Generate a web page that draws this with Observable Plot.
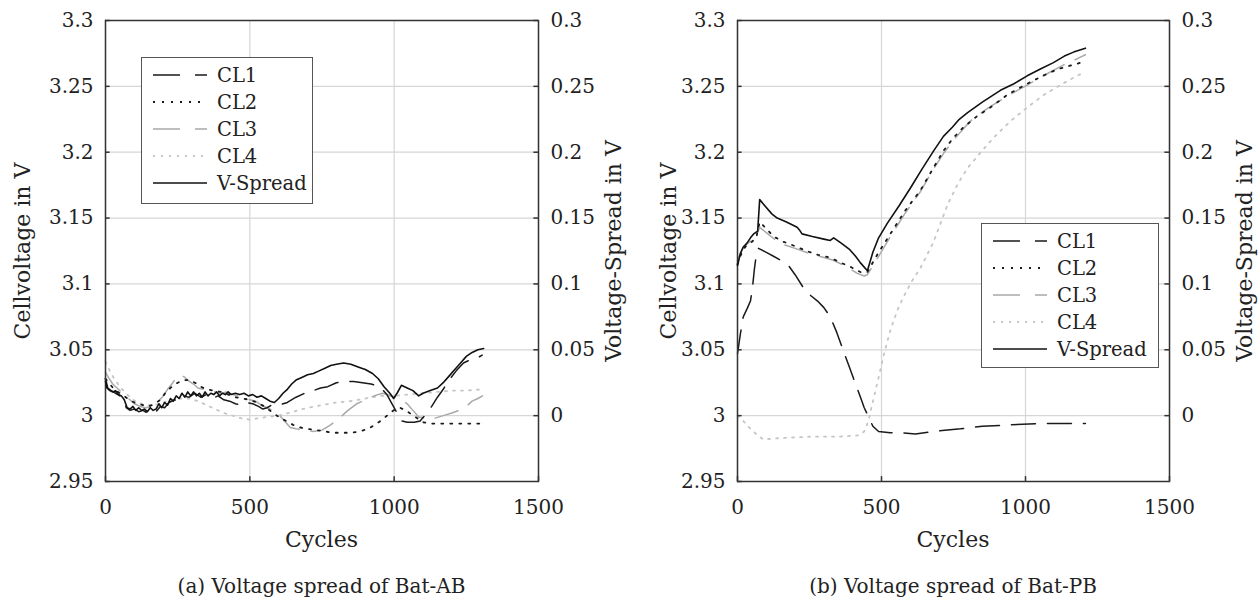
<!DOCTYPE html>
<html><head><meta charset="utf-8">
<script src="https://cdn.jsdelivr.net/npm/d3@7"></script>
<script src="https://cdn.jsdelivr.net/npm/@observablehq/plot@0.6"></script>
<style>
body{margin:0;background:#fff;}
#root{position:relative;width:1258px;height:598px;overflow:hidden;font-family:"DejaVu Serif","Liberation Serif","Noto Serif",serif;color:#222;}
.layer{position:absolute;top:0;}
.txt{position:absolute;white-space:nowrap;line-height:1;}
.rot{transform:translate(-50%,-50%) rotate(-90deg);}
.hc{transform:translate(-50%,-50%);}
.legend{position:absolute;background:#fff;border:1.5px solid #555;box-sizing:border-box;}
</style></head>
<body><div id="root"></div>
<script>
// ---- tick values ----
const xTicks = [0, 500, 1000, 1500];
const cellTicks = [2.95, 3.0, 3.05, 3.1, 3.15, 3.2, 3.25, 3.3];
const spreadTicks = [0, 0.05, 0.1, 0.15, 0.2, 0.25, 0.3];
const legendLabels = ["CL1", "CL2", "CL3", "CL4", "V-Spread"];
const captions = ["(a) Voltage spread of Bat-AB", "(b) Voltage spread of Bat-PB"];

// ---- Bat-AB: [cycle, cell voltage V] ----
const abCL1 = [[0,3.028],[8,3.021],[20,3.019],[35,3.017],[50,3.015],[62,3.012],[72,3.006],[85,3.004],[100,3.005],[115,3.003],[130,3.004],[145,3.002],[160,3.004],[175,3.003],[190,3.007],[205,3.006],[220,3.010],[240,3.012],[255,3.011],[270,3.015],[290,3.014],[310,3.017],[330,3.014],[350,3.016],[370,3.013],[390,3.015],[410,3.012],[430,3.011],[450,3.009],[470,3.008],[490,3.010],[510,3.009],[530,3.007],[545,3.005],[560,3.006],[575,3.008],[600,3.008],[630,3.010],[660,3.014],[690,3.017],[720,3.019],[745,3.021],[770,3.022],[800,3.025],[830,3.026],[860,3.026],[890,3.025],[920,3.024],[950,3.022],[975,3.016],[995,3.008],[1010,3.002],[1025,2.996],[1045,2.995],[1070,2.995],[1090,2.996],[1110,3.001],[1130,3.007],[1150,3.014],[1170,3.020],[1190,3.027],[1215,3.034],[1240,3.040],[1270,3.043],[1290,3.044],[1305,3.046]];
const abCL2 = [[0,3.028],[15,3.024],[30,3.020],[50,3.017],[70,3.014],[90,3.011],[110,3.009],[130,3.008],[150,3.007],[170,3.009],[190,3.012],[210,3.018],[230,3.022],[250,3.025],[270,3.027],[290,3.027],[310,3.025],[330,3.022],[350,3.020],[375,3.019],[400,3.018],[425,3.016],[450,3.014],[475,3.013],[500,3.012],[525,3.010],[550,3.007],[575,3.003],[600,2.999],[625,2.996],[650,2.993],[675,2.991],[700,2.990],[730,2.989],[760,2.988],[790,2.987],[820,2.987],[850,2.987],[880,2.988],[910,2.990],[940,2.994],[965,2.998],[985,3.002],[1005,3.005],[1020,3.006],[1040,3.004],[1060,3.001],[1080,2.998],[1100,2.995],[1130,2.994],[1170,2.994],[1210,2.994],[1250,2.994],[1306,2.994]];
const abCL3 = [[0,3.033],[10,3.029],[25,3.024],[40,3.021],[60,3.017],[80,3.013],[100,3.009],[120,3.007],[140,3.006],[160,3.007],[180,3.010],[200,3.015],[215,3.020],[230,3.024],[245,3.029],[260,3.031],[275,3.029],[290,3.026],[305,3.024],[320,3.021],[340,3.020],[360,3.019],[380,3.018],[400,3.017],[420,3.018],[440,3.016],[460,3.015],[480,3.014],[500,3.012],[520,3.011],[540,3.008],[560,3.006],[580,3.004],[600,3.001],[620,2.996],[640,2.991],[660,2.990],[690,2.989],[720,2.988],[750,2.989],[780,2.993],[810,2.998],[840,3.004],[870,3.009],[900,3.012],[930,3.015],[960,3.017],[990,3.015],[1020,3.013],[1045,3.009],[1065,3.004],[1085,2.999],[1110,2.998],[1140,2.998],[1170,3.000],[1200,3.002],[1225,3.004],[1250,3.007],[1270,3.011],[1290,3.013],[1306,3.015]];
const abCL4 = [[0,3.041],[15,3.034],[30,3.028],[50,3.022],[70,3.017],[90,3.013],[110,3.010],[140,3.008],[170,3.008],[200,3.010],[230,3.012],[260,3.013],[290,3.013],[320,3.011],[350,3.008],[380,3.005],[410,3.002],[440,3.000],[470,2.998],[500,2.997],[530,2.998],[560,2.999],[600,3.000],[650,3.003],[700,3.006],[750,3.008],[800,3.010],[850,3.011],[900,3.013],[950,3.015],[1000,3.015],[1050,3.016],[1100,3.017],[1150,3.018],[1200,3.019],[1250,3.019],[1306,3.020]];
// Bat-AB: [cycle, voltage spread V]
const abSpread = [[0,0.026],[5,0.021],[15,0.019],[25,0.018],[35,0.019],[45,0.016],[55,0.015],[65,0.012],[75,0.006],[85,0.005],[95,0.007],[105,0.004],[115,0.006],[125,0.004],[135,0.005],[145,0.003],[155,0.006],[165,0.004],[175,0.005],[185,0.009],[195,0.006],[205,0.010],[215,0.008],[225,0.013],[235,0.011],[245,0.015],[255,0.013],[265,0.017],[275,0.014],[285,0.018],[295,0.015],[305,0.018],[315,0.015],[325,0.017],[335,0.014],[345,0.018],[355,0.015],[365,0.017],[375,0.016],[385,0.018],[395,0.015],[405,0.017],[415,0.016],[425,0.018],[435,0.016],[450,0.017],[465,0.016],[480,0.017],[495,0.015],[510,0.016],[525,0.014],[540,0.015],[555,0.013],[570,0.011],[585,0.010],[600,0.013],[615,0.017],[630,0.020],[645,0.024],[660,0.027],[680,0.029],[700,0.031],[720,0.032],[740,0.034],[760,0.036],[780,0.038],[800,0.039],[825,0.040],[850,0.039],[875,0.037],[900,0.035],[925,0.032],[945,0.028],[965,0.022],[985,0.017],[998,0.013],[1010,0.017],[1025,0.023],[1045,0.021],[1065,0.019],[1085,0.015],[1100,0.017],[1125,0.019],[1150,0.021],[1170,0.025],[1190,0.030],[1210,0.035],[1230,0.040],[1250,0.045],[1270,0.048],[1290,0.050],[1310,0.051]];

// ---- Bat-PB: [cycle, cell voltage V] ----
const pbCL1 = [[0,3.047],[10,3.062],[20,3.075],[35,3.082],[45,3.087],[52,3.097],[58,3.110],[65,3.122],[73,3.127],[100,3.124],[125,3.121],[150,3.118],[177,3.114],[200,3.107],[229,3.097],[255,3.091],[278,3.087],[300,3.082],[322,3.075],[345,3.063],[368,3.049],[390,3.036],[410,3.024],[427,3.014],[440,3.006],[451,3.001],[470,2.992],[490,2.988],[530,2.987],[570,2.987],[618,2.986],[680,2.988],[774,2.990],[850,2.992],[948,2.993],[1050,2.994],[1130,2.994],[1208,2.994]];
const pbCL2 = [[0,3.115],[15,3.124],[30,3.129],[50,3.132],[65,3.135],[77,3.147],[100,3.142],[125,3.136],[160,3.132],[196,3.129],[240,3.125],[280,3.122],[322,3.120],[360,3.116],[392,3.113],[427,3.109],[451,3.109],[490,3.124],[531,3.138],[580,3.155],[635,3.171],[680,3.188],[715,3.201],[750,3.211],[785,3.219],[830,3.227],[878,3.234],[940,3.244],[1006,3.252],[1060,3.258],[1111,3.263],[1160,3.266],[1208,3.269]];
const pbCL3 = [[0,3.118],[15,3.126],[30,3.130],[50,3.133],[65,3.136],[77,3.143],[100,3.139],[145,3.131],[200,3.127],[253,3.123],[300,3.120],[333,3.118],[380,3.113],[416,3.108],[440,3.106],[451,3.107],[490,3.121],[531,3.136],[580,3.153],[635,3.170],[680,3.187],[715,3.199],[750,3.209],[785,3.218],[820,3.226],[880,3.235],[940,3.243],[1006,3.251],[1070,3.259],[1139,3.267],[1180,3.271],[1208,3.274]];
const pbCL4 = [[0,3.000],[20,2.996],[45,2.990],[70,2.985],[90,2.982],[150,2.983],[250,2.984],[350,2.984],[420,2.985],[440,2.988],[455,2.996],[465,3.006],[478,3.018],[490,3.029],[510,3.048],[531,3.065],[555,3.080],[576,3.090],[605,3.102],[635,3.112],[681,3.132],[729,3.160],[765,3.176],[799,3.188],[845,3.200],[889,3.211],[950,3.224],[1006,3.234],[1060,3.243],[1121,3.251],[1170,3.257],[1208,3.261]];
// Bat-PB: [cycle, voltage spread V]
const pbSpread = [[0,0.114],[10,0.123],[20,0.128],[33,0.131],[45,0.135],[56,0.138],[70,0.140],[77,0.164],[100,0.158],[120,0.153],[138,0.150],[170,0.147],[207,0.143],[215,0.141],[224,0.138],[260,0.136],[300,0.134],[322,0.133],[334,0.135],[360,0.131],[390,0.126],[410,0.121],[427,0.116],[451,0.110],[470,0.124],[490,0.135],[520,0.146],[560,0.159],[601,0.173],[640,0.187],[681,0.201],[715,0.212],[746,0.219],[770,0.225],[799,0.230],[850,0.238],[913,0.247],[960,0.252],[1006,0.258],[1050,0.263],[1097,0.268],[1135,0.273],[1167,0.276],[1208,0.279]];

// ---- styles ----
const seriesStyle = [
  {stroke:"#1a1a1a", strokeWidth:1.5, strokeDasharray:"24,12"},
  {stroke:"#1a1a1a", strokeWidth:1.8, strokeDasharray:"2,7"},
  {stroke:"#a9a9a9", strokeWidth:1.5, strokeDasharray:"24,12"},
  {stroke:"#c6c6c6", strokeWidth:1.8, strokeDasharray:"2,6"},
  {stroke:"#111", strokeWidth:1.6, strokeDasharray:null}
];
const W = 629, H = 555, MT = 20, MB = 74;
const FONT = "'DejaVu Serif', 'Liberation Serif', 'Noto Serif', serif";
const TICK = 20;
const fmt = d => String(+d.toFixed(2));
const root = document.getElementById("root");

function addText(text, cls, left, top, size) {
  const d = document.createElement("div");
  d.className = "txt " + cls;
  d.style.left = left + "px"; d.style.top = top + "px"; d.style.fontSize = size + "px";
  d.textContent = text;
  root.appendChild(d);
}

function panel(offset, ml, mr, cells, spread, caption, leg, titleDx) {
  const lineMarks = cells.map((s, i) => Plot.line(s, {x: d => d[0], y: d => d[1], ...seriesStyle[i]})).reverse();
  const main = Plot.plot({
    width: W, height: H, marginLeft: ml, marginRight: mr, marginTop: MT, marginBottom: MB,
    x: {domain: [0, 1500]}, y: {domain: [2.95, 3.3]},
    style: {background: "transparent", fontFamily: FONT, fontSize: TICK + "px", color: "#222", overflow: "visible"},
    marks: [
      Plot.gridX(xTicks, {stroke: "#d6d6d6", strokeOpacity: 1, strokeWidth: 1.2}),
      Plot.gridY(cellTicks, {stroke: "#d6d6d6", strokeOpacity: 1, strokeWidth: 1.2}),
      ...lineMarks,
      Plot.ruleY(cellTicks, {x1: 0, x2: 16, stroke: "#333", strokeWidth: 1.5}),
      Plot.ruleX(xTicks, {y1: 2.95, y2: 2.9537, stroke: "#333", strokeWidth: 1.5}),
      Plot.axisX(xTicks, {tickSize: 0, tickPadding: 18, label: null, tickFormat: d => String(d), fontSize: TICK, fontFamily: FONT}),
      Plot.axisY(cellTicks, {tickSize: 0, tickPadding: 12, label: null, tickFormat: fmt, fontSize: TICK, fontFamily: FONT}),
      Plot.frame({stroke: "#333", strokeWidth: 1.5})
    ]
  });
  const over = Plot.plot({
    width: W, height: H, marginLeft: ml, marginRight: mr, marginTop: MT, marginBottom: MB,
    x: {domain: [0, 1500], axis: null}, y: {domain: [-0.05, 0.3]},
    style: {background: "transparent", fontFamily: FONT, fontSize: TICK + "px", color: "#222", overflow: "visible"},
    marks: [
      Plot.line(spread, {x: d => d[0], y: d => d[1], ...seriesStyle[4]}),
      Plot.ruleY(spreadTicks, {x1: 1484, x2: 1500, stroke: "#333", strokeWidth: 1.5}),
      Plot.axisY(spreadTicks, {anchor: "right", tickSize: 0, tickPadding: 12, label: null, tickFormat: fmt, fontSize: TICK, fontFamily: FONT})
    ]
  });
  for (const el of [main, over]) { el.classList.add("layer"); el.style.left = offset + "px"; root.appendChild(el); }
  const fx0 = offset + ml, fx1 = offset + W - mr, cx = (fx0 + fx1) / 2, cy = (MT + H - MB) / 2;
  addText("Cycles", "hc", cx, 540, 22);
  addText(caption, "hc", cx, 586, 20);
  addText("Cellvoltage in V", "rot", fx0 - titleDx, cy, 22);
  addText("Voltage-Spread in V", "rot", fx1 + 76, cy, 22);
  // legend
  const lg = document.createElement("div");
  lg.className = "legend";
  Object.assign(lg.style, {left: leg[0] + "px", top: leg[1] + "px", width: leg[2] + "px", height: leg[3] + "px"});
  const ns = "http://www.w3.org/2000/svg";
  const svg = document.createElementNS(ns, "svg");
  svg.setAttribute("width", leg[2]); svg.setAttribute("height", leg[3]);
  svg.style.position = "absolute"; svg.style.left = "-1.5px"; svg.style.top = "-1.5px";
  legendLabels.forEach((lab, i) => {
    const y = 18 + i * 27;
    const ln = document.createElementNS(ns, "line");
    ln.setAttribute("x1", 12); ln.setAttribute("x2", 66); ln.setAttribute("y1", y); ln.setAttribute("y2", y);
    const st = seriesStyle[i];
    ln.setAttribute("stroke", st.stroke); ln.setAttribute("stroke-width", st.strokeWidth);
    if (st.strokeDasharray) ln.setAttribute("stroke-dasharray", i % 2 === 0 ? "27,15" : st.strokeDasharray);
    svg.appendChild(ln);
    const t = document.createElementNS(ns, "text");
    t.setAttribute("x", 76); t.setAttribute("y", y); t.setAttribute("dy", "0.36em");
    t.setAttribute("font-size", 19.5); t.setAttribute("font-family", FONT); t.setAttribute("fill", "#222");
    t.textContent = lab;
    svg.appendChild(t);
  });
  lg.appendChild(svg);
  root.appendChild(lg);
}

panel(0, 105, 91, [abCL1, abCL2, abCL3, abCL4], abSpread, captions[0], [141, 57, 172, 147], 82);
panel(629, 108, 89, [pbCL1, pbCL2, pbCL3, pbCL4], pbSpread, captions[1], [981, 223, 178, 145], 68);
</script>
</body></html>
